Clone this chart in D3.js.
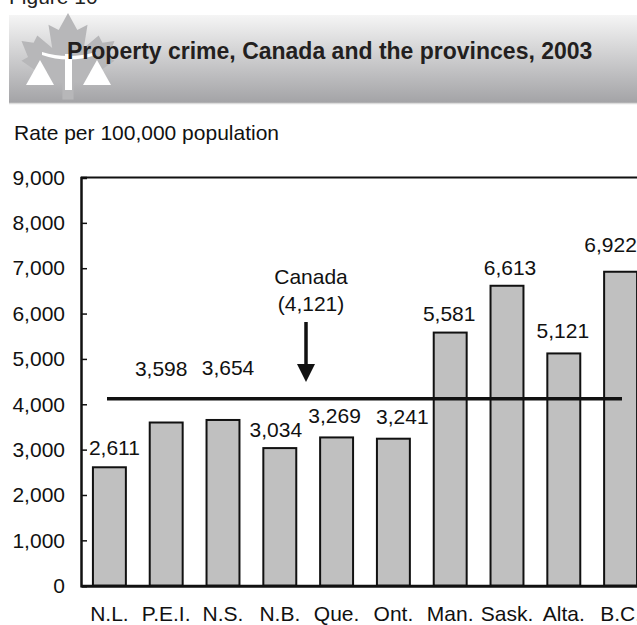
<!DOCTYPE html>
<html>
<head>
<meta charset="utf-8">
<script src="https://cdn.jsdelivr.net/npm/d3@7"></script>
<style>
  html, body { margin: 0; padding: 0; background: #fff; }
  svg { display: block; font-family: "Liberation Sans", Arial, Helvetica, sans-serif; }
</style>
</head>
<body>
<svg id="chart" width="637" height="625"></svg>
<script>
// Property crime rates per 100,000 population, 2003
const provinces = ["N.L.", "P.E.I.", "N.S.", "N.B.", "Que.", "Ont.", "Man.", "Sask.", "Alta.", "B.C."];
const rates = [2611, 3598, 3654, 3034, 3269, 3241, 5581, 6613, 5121, 6922];
const canadaRate = 4121;
const yTicks = [0, 1000, 2000, 3000, 4000, 5000, 6000, 7000, 8000, 9000];

// How far each value label sits above its bar, and its sideways nudge
const labelLift = [12, 47, 45, 11, 14, 15, 12, 11, 15, 20];
const labelShift = [5, -5, 5, -4, -2, 9, -1, 3, -1, -10];

const FONT = 21;
const svg = d3.select("#chart");
const fmt = d3.format(",");

// ---- Header banner ----
const defs = svg.append("defs");
const grad = defs.append("linearGradient")
  .attr("id", "bannerGrad").attr("x1", 0).attr("y1", 0).attr("x2", 0).attr("y2", 1);
grad.append("stop").attr("offset", "0%").attr("stop-color", "#f5f5f5");
grad.append("stop").attr("offset", "100%").attr("stop-color", "#a3a3a6");

svg.append("text")
  .attr("x", 9).attr("y", 4)
  .attr("font-size", FONT).attr("fill", "#222")
  .text("Figure 10");

svg.append("rect")
  .attr("x", 9).attr("y", 15).attr("width", 640).attr("height", 88)
  .attr("fill", "url(#bannerGrad)");
svg.append("line")
  .attr("x1", 9).attr("x2", 637).attr("y1", 103.5).attr("y2", 103.5)
  .attr("stroke", "#dcdcdc").attr("stroke-width", 1.5);

// Maple leaf emblem
const leaf = [
  [0,-50],[10,-31],[21,-37],[17,-11],[33,-25],[37,-17],[50,-19],[43,-1],[50,3],
  [28,19],[32,29],[6,25],[6,46],[-6,46],[-6,25],[-32,29],[-28,19],[-50,3],
  [-43,-1],[-50,-19],[-37,-17],[-33,-25],[-17,-11],[-21,-37],[-10,-31]
];
svg.append("path")
  .attr("d", d3.line()(leaf) + "Z")
  .attr("transform", "translate(68,58) scale(0.93,0.9)")
  .attr("fill", "#b7b7b9");

// Scales of justice in white
const emblem = svg.append("g").attr("fill", "#fff");
emblem.append("path").attr("d", "M42,52 Q68,60 96,52 L96,55 Q68,64 42,55 Z");
emblem.append("rect").attr("x", 65).attr("y", 54).attr("width", 7).attr("height", 36);
emblem.append("path").attr("d", "M40,60 L54,85 L26,85 Z");
emblem.append("path").attr("d", "M97,60 L111,85 L83,85 Z");

svg.append("text")
  .attr("x", 67).attr("y", 59)
  .attr("font-size", 23).attr("font-weight", "bold").attr("fill", "#231f20")
  .text("Property crime, Canada and the provinces, 2003");

svg.append("text")
  .attr("x", 14).attr("y", 140)
  .attr("font-size", FONT).attr("fill", "#111")
  .text("Rate per 100,000 population");

// ---- Chart ----
const x = d3.scaleBand()
  .domain(provinces)
  .range([81, 649])
  .paddingInner(0.42)
  .paddingOuter(0.21);

const y = d3.scaleLinear()
  .domain([0, 9000])
  .range([585.7, 177.5]);

// Frame along the top and right
svg.append("path")
  .attr("d", `M81,${y(9000)} H649 V${y(0)}`)
  .attr("fill", "none").attr("stroke", "#111").attr("stroke-width", 2);

// Bars
svg.append("g")
  .selectAll("rect")
  .data(rates)
  .join("rect")
  .attr("x", (d, i) => x(provinces[i]))
  .attr("y", d => y(d))
  .attr("width", x.bandwidth())
  .attr("height", d => y(0) - y(d))
  .attr("fill", "#c0c0c0")
  .attr("stroke", "#111")
  .attr("stroke-width", 2);

// Value labels
svg.append("g")
  .attr("font-size", FONT).attr("fill", "#111").attr("text-anchor", "middle")
  .selectAll("text")
  .data(rates)
  .join("text")
  .attr("x", (d, i) => x(provinces[i]) + x.bandwidth() / 2 + labelShift[i])
  .attr("y", (d, i) => y(d) - labelLift[i])
  .text(d => fmt(d));

// Y axis with inward ticks
const yAxis = svg.append("g")
  .attr("transform", "translate(81,0)")
  .call(d3.axisLeft(y).tickValues(yTicks).tickFormat(fmt).tickSize(-6).tickPadding(16));
yAxis.select(".domain").attr("stroke", "#111").attr("stroke-width", 2.5);
yAxis.selectAll(".tick line").attr("stroke", "#111").attr("stroke-width", 1.5);
yAxis.selectAll(".tick text")
  .attr("font-size", FONT).attr("fill", "#111")
  .attr("font-family", "Liberation Sans, Arial, sans-serif");

// X axis
const xAxis = svg.append("g")
  .attr("transform", `translate(0,${y(0)})`)
  .call(d3.axisBottom(x).tickSize(0).tickPadding(20));
xAxis.select(".domain").attr("stroke", "#111").attr("stroke-width", 3);
xAxis.selectAll(".tick text")
  .attr("font-size", FONT).attr("fill", "#111")
  .attr("font-family", "Liberation Sans, Arial, sans-serif");

// Canada average line with callout
svg.append("line")
  .attr("x1", 107).attr("x2", 622)
  .attr("y1", y(canadaRate)).attr("y2", y(canadaRate))
  .attr("stroke", "#111").attr("stroke-width", 3.5);

const arrowX = 306;
svg.append("line")
  .attr("x1", arrowX).attr("x2", arrowX)
  .attr("y1", 322).attr("y2", 366)
  .attr("stroke", "#111").attr("stroke-width", 3.5);
svg.append("path")
  .attr("d", `M${arrowX - 9},364 L${arrowX + 9},364 L${arrowX},382 Z`)
  .attr("fill", "#111");

svg.append("text")
  .attr("x", 311).attr("y", 284)
  .attr("font-size", FONT).attr("fill", "#111").attr("text-anchor", "middle")
  .text("Canada");
svg.append("text")
  .attr("x", 311).attr("y", 311)
  .attr("font-size", FONT).attr("fill", "#111").attr("text-anchor", "middle")
  .text(`(${fmt(canadaRate)})`);
</script>
</body>
</html>
